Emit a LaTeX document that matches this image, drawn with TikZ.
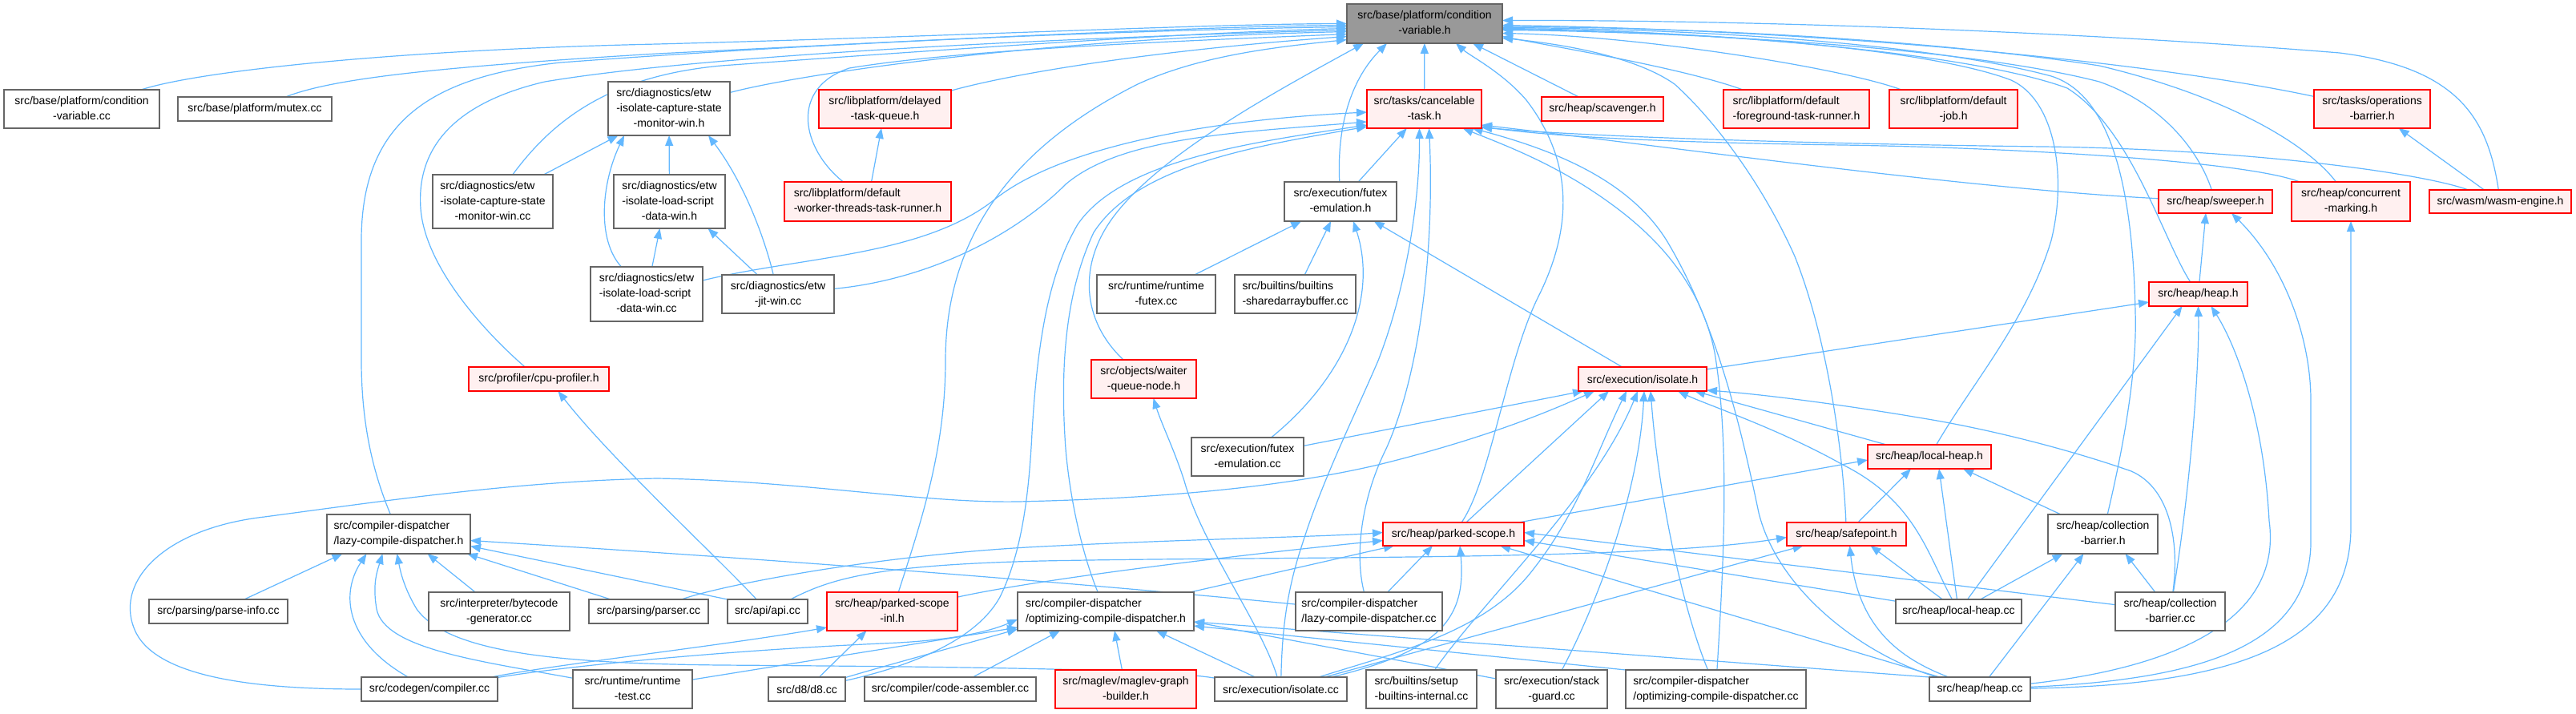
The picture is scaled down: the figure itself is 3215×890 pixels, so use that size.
\documentclass[tikz,border=0pt]{standalone}
\usepackage{fontspec}
\setmainfont{Liberation Sans}
\usetikzlibrary{arrows.meta}
\definecolor{edgec}{HTML}{63B8FF}
\definecolor{grayb}{HTML}{666666}
\definecolor{redf}{HTML}{FFF0F0}
\definecolor{rootf}{HTML}{999999}
\pgfdeclarelayer{back}
\pgfdeclarelayer{edges}
\pgfsetlayers{back,edges,main}
\tikzset{
 nodebase/.style={rectangle, inner sep=0pt, outer sep=0pt, font=\fontsize{7}{9.5}\selectfont},
 gn/.style={nodebase, draw=grayb, fill=white, line width=0.6pt},
 rn/.style={nodebase, draw=red, fill=redf, line width=0.7pt},
 rootnode/.style={nodebase, draw=grayb, fill=rootf, line width=0.6pt},
 edg/.style={draw=edgec, line width=0.6pt, -{Triangle[length=6.5pt,width=5pt]}},
}
\newcommand\two[2]{\begin{tabular}{@{}l@{}}#1\\\multicolumn{1}{@{}c@{}}{#2}\end{tabular}}
\newcommand\three[3]{\begin{tabular}{@{}l@{}}#1\\#2\\\multicolumn{1}{@{}c@{}}{#3}\end{tabular}}
\newcommand\mknode[7]{\node[#2, minimum width={(#5-#3)*0.5pt}, minimum height={(#6-#4)*0.5pt}] (#1) at ({(#3+#5)/2},{(#4+#6)/2}) {#7};}
\begin{document}
\begin{tikzpicture}[x=0.5pt,y=-0.5pt]
\begin{pgfonlayer}{back}
\fill[white] (0,0) rectangle (3215,890);
\end{pgfonlayer}
\useasboundingbox (0,0) rectangle (3215,890);
\mknode{cv_h}{rootnode}{1681}{5}{1875}{54}{\two{src/base/platform/condition}{-variable.h}}
\mknode{condvar_cc}{gn}{5}{112}{199}{160}{\two{src/base/platform/condition}{-variable.cc}}
\mknode{mutex_cc}{gn}{222}{121}{414}{151}{src/base/platform/mutex.cc}
\mknode{etwcap_h}{gn}{759}{102}{911}{169}{\three{src/diagnostics/etw}{-isolate-capture-state}{-monitor-win.h}}
\mknode{delayed_h}{rn}{1022}{112}{1187}{160}{\two{src/libplatform/delayed}{-task-queue.h}}
\mknode{cancel_h}{rn}{1706}{112}{1849}{160}{\two{src/tasks/cancelable}{-task.h}}
\mknode{scav_h}{rn}{1924}{121}{2076}{151}{src/heap/scavenger.h}
\mknode{fgrun_h}{rn}{2151}{112}{2333}{160}{\two{src/libplatform/default}{-foreground-task-runner.h}}
\mknode{defjob_h}{rn}{2358}{112}{2518}{160}{\two{src/libplatform/default}{-job.h}}
\mknode{opbar_h}{rn}{2888}{112}{3033}{160}{\two{src/tasks/operations}{-barrier.h}}
\mknode{etwcap_cc}{gn}{540}{218}{690}{285}{\three{src/diagnostics/etw}{-isolate-capture-state}{-monitor-win.cc}}
\mknode{etwload_h}{gn}{766}{218}{905}{285}{\three{src/diagnostics/etw}{-isolate-load-script}{-data-win.h}}
\mknode{worker_h}{rn}{979}{227}{1187}{276}{\two{src/libplatform/default}{-worker-threads-task-runner.h}}
\mknode{futex_h}{gn}{1603}{227}{1743}{276}{\two{src/execution/futex}{-emulation.h}}
\mknode{sweeper_h}{rn}{2694}{237}{2836}{266}{src/heap/sweeper.h}
\mknode{concmark_h}{rn}{2860}{227}{3008}{276}{\two{src/heap/concurrent}{-marking.h}}
\mknode{wasm_h}{rn}{3032}{237}{3209}{266}{src/wasm/wasm-engine.h}
\mknode{etwload_cc}{gn}{737}{333}{877}{401}{\three{src/diagnostics/etw}{-isolate-load-script}{-data-win.cc}}
\mknode{etwjit_cc}{gn}{901}{343}{1041}{391}{\two{src/diagnostics/etw}{-jit-win.cc}}
\mknode{rtfutex_cc}{gn}{1369}{343}{1517}{391}{\two{src/runtime/runtime}{-futex.cc}}
\mknode{sab_cc}{gn}{1541}{343}{1692}{391}{\two{src/builtins/builtins}{-sharedarraybuffer.cc}}
\mknode{heap_h}{rn}{2682}{352}{2805}{382}{src/heap/heap.h}
\mknode{cpuprof_h}{rn}{585}{458}{760}{488}{src/profiler/cpu-profiler.h}
\mknode{waiter_h}{rn}{1362}{449}{1493}{497}{\two{src/objects/waiter}{-queue-node.h}}
\mknode{isolate_h}{rn}{1970}{458}{2130}{488}{src/execution/isolate.h}
\mknode{futex_cc}{gn}{1487}{546}{1627}{594}{\two{src/execution/futex}{-emulation.cc}}
\mknode{localheap_h}{rn}{2331}{555}{2485}{585}{src/heap/local-heap.h}
\mknode{lazycd_h}{gn}{408}{642}{587}{691}{\two{src/compiler-dispatcher}{/lazy-compile-dispatcher.h}}
\mknode{parked_h}{rn}{1726}{652}{1902}{681}{src/heap/parked-scope.h}
\mknode{safepoint_h}{rn}{2230}{652}{2379}{681}{src/heap/safepoint.h}
\mknode{collbar_h}{gn}{2556}{642}{2693}{691}{\two{src/heap/collection}{-barrier.h}}
\mknode{parseinfo_cc}{gn}{186}{748}{359}{778}{src/parsing/parse-info.cc}
\mknode{bytecode_cc}{gn}{535}{739}{711}{787}{\two{src/interpreter/bytecode}{-generator.cc}}
\mknode{parser_cc}{gn}{735}{748}{884}{778}{src/parsing/parser.cc}
\mknode{api_cc}{gn}{908}{748}{1008}{778}{src/api/api.cc}
\mknode{parkedinl_h}{rn}{1032}{739}{1195}{787}{\two{src/heap/parked-scope}{-inl.h}}
\mknode{optcd_h}{gn}{1270}{739}{1490}{787}{\two{src/compiler-dispatcher}{/optimizing-compile-dispatcher.h}}
\mknode{lazycd_cc}{gn}{1617}{739}{1800}{787}{\two{src/compiler-dispatcher}{/lazy-compile-dispatcher.cc}}
\mknode{localheap_cc}{gn}{2366}{748}{2523}{778}{src/heap/local-heap.cc}
\mknode{collbar_cc}{gn}{2640}{739}{2777}{787}{\two{src/heap/collection}{-barrier.cc}}
\mknode{compiler_cc}{gn}{451}{845}{621}{875}{src/codegen/compiler.cc}
\mknode{rttest_cc}{gn}{715}{836}{864}{884}{\two{src/runtime/runtime}{-test.cc}}
\mknode{d8_cc}{gn}{959}{845}{1055}{875}{src/d8/d8.cc}
\mknode{codeasm_cc}{gn}{1079}{845}{1293}{875}{src/compiler/code-assembler.cc}
\mknode{maglev_h}{rn}{1317}{836}{1493}{884}{\two{src/maglev/maglev-graph}{-builder.h}}
\mknode{isolate_cc}{gn}{1516}{845}{1681}{875}{src/execution/isolate.cc}
\mknode{setupbi_cc}{gn}{1705}{836}{1843}{884}{\two{src/builtins/setup}{-builtins-internal.cc}}
\mknode{stackguard_cc}{gn}{1867}{836}{2006}{884}{\two{src/execution/stack}{-guard.cc}}
\mknode{optcd_cc}{gn}{2029}{836}{2254}{884}{\two{src/compiler-dispatcher}{/optimizing-compile-dispatcher.cc}}
\mknode{heap_cc}{gn}{2408}{845}{2534}{875}{src/heap/heap.cc}
\begin{pgfonlayer}{edges}
% into condition-variable.h, left side
\draw[edg] (condvar_cc) .. controls (250,88) and (500,62) .. (820,55) .. controls (1200,45) and (1500,30) .. (cv_h.west);
\draw[edg] (mutex_cc) .. controls (410,100) and (520,85) .. (820,67) .. controls (1200,48) and (1500,33) .. ([yshift=-1pt]cv_h.west);
\draw[edg] (lazycd_h) .. controls (470,600) and (451,540) .. (451,450) -- (451,300) .. controls (451,150) and (540,95) .. (700,78) .. controls (1100,48) and (1500,36) .. ([yshift=-2pt]cv_h.west);
\draw[edg] (etwcap_cc) .. controls (690,150) and (760,95) .. (900,82) .. controls (1200,60) and (1500,40) .. ([yshift=-3pt]cv_h.west);
\draw[edg] (cpuprof_h) .. controls (600,410) and (530,330) .. (525,260) .. controls (520,190) and (560,130) .. (680,102) .. controls (900,65) and (1400,45) .. ([yshift=-4pt]cv_h.west);
\draw[edg] (etwcap_h) .. controls (1000,92) and (1300,48) .. ([yshift=-5pt]cv_h.west);
\draw[edg] (worker_h) .. controls (1000,185) and (985,110) .. (1060,85) .. controls (1200,62) and (1450,52) .. ([yshift=-6.5pt]cv_h.west);
\draw[edg] (delayed_h) .. controls (1270,90) and (1450,62) .. ([yshift=-8pt]cv_h.west);
\draw[edg] (parkedinl_h) .. controls (1150,650) and (1180,560) .. (1180,450) .. controls (1180,330) and (1230,200) .. (1420,105) .. controls (1500,68) and (1600,58) .. ([yshift=-10pt]cv_h.west);
% bottom
\draw[edg] (waiter_h) .. controls (1350,400) and (1345,330) .. (1390,270) .. controls (1450,190) and (1600,110) .. ([xshift=-38pt]cv_h.south);
\draw[edg] (futex_h) .. controls (1668,150) and (1690,95) .. ([xshift=-23.5pt]cv_h.south);
\draw[edg] (cancel_h) -- (cv_h);
\draw[edg] (parked_h) .. controls (1860,600) and (1880,450) .. (1920,370) .. controls (1970,270) and (1955,190) .. (1905,125) .. controls (1875,90) and (1835,70) .. ([xshift=19.5pt]cv_h.south);
\draw[edg] (scav_h) -- ([xshift=30pt]cv_h.south);
% right side
\draw[edg] (fgrun_h) .. controls (2100,85) and (1950,60) .. ([yshift=-8pt]cv_h.east);
\draw[edg] (defjob_h) .. controls (2300,85) and (2050,45) .. ([yshift=-6pt]cv_h.east);
\draw[edg] (opbar_h) .. controls (2700,80) and (2300,38) .. ([yshift=-1pt]cv_h.east);
\draw[edg] (wasm_h) .. controls (3105,150) and (3070,85) .. (2920,66) .. controls (2600,40) and (2200,25) .. ([yshift=2pt]cv_h.east);
\draw[edg] (concmark_h) .. controls (2880,180) and (2780,120) .. (2620,82) .. controls (2400,48) and (2100,34) .. ([yshift=-2pt]cv_h.east);
\draw[edg] (sweeper_h) .. controls (2745,190) and (2700,130) .. (2620,102) .. controls (2450,58) and (2100,40) .. ([yshift=-4pt]cv_h.east);
\draw[edg] (heap_h) .. controls (2700,300) and (2660,160) .. (2580,110) .. controls (2450,62) and (2100,38) .. ([yshift=-3pt]cv_h.east);
\draw[edg] (collbar_h) .. controls (2640,600) and (2668,480) .. (2665,390) .. controls (2662,250) and (2640,120) .. (2560,95) .. controls (2400,52) and (2100,36) .. ([yshift=-2.5pt]cv_h.east);
\draw[edg] (localheap_h) .. controls (2460,480) and (2530,400) .. (2560,300) .. controls (2580,220) and (2565,125) .. (2510,100) .. controls (2400,58) and (2100,38) .. ([yshift=-3.5pt]cv_h.east);
\draw[edg] (safepoint_h) .. controls (2300,560) and (2280,420) .. (2240,320) .. controls (2200,230) and (2140,150) .. (2090,105) .. controls (2040,70) and (1950,55) .. ([yshift=-9pt]cv_h.east);
% into cancelable-task.h
\draw[edg] (futex_h) -- (cancel_h);
\draw[edg] (isolate_cc) .. controls (1600,790) and (1605,740) .. (1625,680) .. controls (1650,600) and (1690,520) .. (1720,450) .. controls (1755,360) and (1772,250) .. ([xshift=-3pt]cancel_h.south);
\draw[edg] (lazycd_cc) .. controls (1690,690) and (1700,620) .. (1730,560) .. controls (1775,460) and (1790,300) .. ([xshift=3pt]cancel_h.south);
\draw[edg] (optcd_cc) .. controls (2150,720) and (2160,560) .. (2140,440) .. controls (2120,340) and (2050,280) .. (1990,240) .. controls (1930,200) and (1870,178) .. ([xshift=24pt]cancel_h.south);
\draw[edg] (heap_cc) .. controls (2330,820) and (2220,740) .. (2195,640) .. controls (2170,520) and (2140,400) .. (2080,300) .. controls (2030,220) and (1930,185) .. ([xshift=30pt]cancel_h.south);
\draw[edg] (sweeper_h) .. controls (2450,235) and (2100,185) .. ([yshift=-10pt]cancel_h.east);
\draw[edg] (concmark_h) .. controls (2800,200) and (2500,184) .. (2300,181) .. controls (2100,178) and (1950,172) .. ([yshift=-11pt]cancel_h.east);
\draw[edg] (wasm_h) .. controls (3020,215) and (2800,186) .. (2550,183) .. controls (2300,180) and (2000,172) .. ([yshift=-11.5pt]cancel_h.east);
\draw[edg] (etwload_cc) .. controls (1000,320) and (1150,320) .. (1240,250) .. controls (1320,185) and (1500,150) .. ([yshift=-2pt]cancel_h.west);
\draw[edg] (etwjit_cc) .. controls (1150,350) and (1260,300) .. (1330,230) .. controls (1400,170) and (1550,165) .. ([yshift=-8pt]cancel_h.west);
\draw[edg] (d8_cc) .. controls (1120,835) and (1215,805) .. (1248,745) .. controls (1275,690) and (1284,620) .. (1288,540) .. controls (1295,420) and (1310,340) .. (1345,280) .. controls (1400,200) and (1560,178) .. ([yshift=-10pt]cancel_h.west);
\draw[edg] (optcd_h) .. controls (1350,690) and (1335,620) .. (1330,560) .. controls (1322,450) and (1332,360) .. (1365,290) .. controls (1420,205) and (1570,182) .. ([yshift=-11pt]cancel_h.west);
% into futex-emulation.h
\draw[edg] (rtfutex_cc) -- (futex_h);
\draw[edg] (sab_cc) -- (futex_h);
\draw[edg] (futex_cc) .. controls (1680,470) and (1720,370) .. ([xshift=8pt]futex_h.south);
\draw[edg] (isolate_h) -- (futex_h);
% into isolate.h
\draw[edg] (futex_cc) -- ([xshift=3pt]isolate_h.south west);
\draw[edg] (compiler_cc) .. controls (330,860) and (200,848) .. (170,790) .. controls (140,730) and (200,660) .. (330,645) .. controls (480,625) and (650,600) .. (820,597) .. controls (1000,600) and (1150,628) .. (1270,626) .. controls (1450,622) and (1600,608) .. (1720,580) .. controls (1850,548) and (1930,515) .. ([xshift=-30pt]isolate_h.south);
\draw[edg] (parked_h) -- ([xshift=-21pt]isolate_h.south);
\draw[edg] (isolate_cc) .. controls (1740,815) and (1850,790) .. (1910,715) .. controls (1970,640) and (1990,570) .. ([xshift=-10pt]isolate_h.south);
\draw[edg] (setupbi_cc) .. controls (1850,750) and (1990,620) .. ([xshift=-3pt]isolate_h.south);
\draw[edg] (stackguard_cc) .. controls (1990,760) and (2045,620) .. ([xshift=1pt]isolate_h.south);
\draw[edg] (optcd_cc) .. controls (2100,760) and (2070,620) .. ([xshift=5pt]isolate_h.south);
\draw[edg] (localheap_cc) .. controls (2405,690) and (2390,625) .. (2300,580) .. controls (2220,535) and (2130,505) .. ([xshift=22pt]isolate_h.south);
\draw[edg] (localheap_h) -- ([xshift=32.5pt]isolate_h.south);
\draw[edg] (collbar_cc) .. controls (2720,680) and (2710,610) .. (2660,588) .. controls (2580,560) and (2480,535) .. (2400,522) .. controls (2300,505) and (2200,492) .. ([yshift=-7pt]isolate_h.east);
% heap.h and friends
\draw[edg] (isolate_h) -- ([yshift=-5pt]heap_h.west);
\draw[edg] (localheap_cc) -- ([xshift=-10pt]heap_h.south);
\draw[edg] (collbar_cc) .. controls (2735,600) and (2745,450) .. (heap_h.south);
\draw[edg] (heap_cc) .. controls (2700,835) and (2850,780) .. (2832,650) .. controls (2825,520) and (2790,430) .. ([xshift=8pt]heap_h.south);
\draw[edg] (heap_h) -- ([xshift=-6pt]sweeper_h.south);
\draw[edg] (heap_cc) .. controls (2750,848) and (2880,805) .. (2884,680) -- (2884,500) .. controls (2884,420) and (2850,330) .. ([xshift=10pt]sweeper_h.south);
\draw[edg] (heap_cc) .. controls (2800,855) and (2932,800) .. (2934,660) -- (concmark_h);
% collection barrier, local heap, safepoint
\draw[edg] (localheap_cc) -- ([xshift=-25pt]collbar_h.south);
\draw[edg] (heap_cc) -- ([xshift=-12pt]collbar_h.south);
\draw[edg] (collbar_cc) -- ([xshift=14pt]collbar_h.south);
\draw[edg] (collbar_h) -- ([xshift=21pt]localheap_h.south);
\draw[edg] (parked_h) -- ([yshift=-2pt]localheap_h.west);
\draw[edg] (safepoint_h) -- ([xshift=-11.5pt]localheap_h.south);
\draw[edg] (localheap_cc) -- ([xshift=6pt]localheap_h.south);
\draw[edg] (api_cc) .. controls (1040,720) and (1100,705) .. (1300,700) .. controls (1600,694) and (2050,700) .. ([yshift=-2pt]safepoint_h.west);
\draw[edg] (isolate_cc) -- ([xshift=-27pt]safepoint_h.south);
\draw[edg] (heap_cc) .. controls (2380,825) and (2320,790) .. ([xshift=2pt]safepoint_h.south);
\draw[edg] (localheap_cc) -- ([xshift=15pt]safepoint_h.south);
% parked-scope.h
\draw[edg] (parser_cc) .. controls (900,730) and (1100,692) .. (1300,682) .. controls (1500,672) and (1650,670) .. ([yshift=1pt]parked_h.west);
\draw[edg] (parkedinl_h) .. controls (1300,722) and (1550,692) .. ([yshift=-4pt]parked_h.west);
\draw[edg] (optcd_h) -- ([xshift=-37pt]parked_h.south);
\draw[edg] (lazycd_cc) -- ([xshift=-13pt]parked_h.south);
\draw[edg] (isolate_cc) .. controls (1800,812) and (1830,770) .. ([xshift=4pt]parked_h.south);
\draw[edg] (heap_cc) -- ([xshift=29pt]parked_h.south);
\draw[edg] (localheap_cc) -- ([yshift=-4pt]parked_h.east);
\draw[edg] (collbar_cc) -- ([yshift=1pt]parked_h.east);
% optimizing-compile-dispatcher.h
\draw[edg] (compiler_cc) .. controls (700,832) and (900,812) .. (1100,803) .. controls (1180,800) and (1230,790) .. ([yshift=-5pt]optcd_h.west);
\draw[edg] (compiler_cc) .. controls (700,828) and (900,806) .. ([yshift=-10pt]parkedinl_h.west);
\draw[edg] (rttest_cc) -- ([yshift=-10pt]optcd_h.west);
\draw[edg] (d8_cc) .. controls (1100,832) and (1200,805) .. ([yshift=-11pt]optcd_h.west);
\draw[edg] (codeasm_cc) -- ([xshift=-28.5pt]optcd_h.south);
\draw[edg] (maglev_h) -- ([xshift=5.5pt]optcd_h.south);
\draw[edg] (isolate_cc) -- ([xshift=31.5pt]optcd_h.south);
\draw[edg] (stackguard_cc) -- ([yshift=-6.5pt]optcd_h.east);
\draw[edg] (optcd_cc.north west) -- ([yshift=-9pt]optcd_h.east);
\draw[edg] (heap_cc.north west) -- ([yshift=-6.5pt]optcd_h.east);
% lazy-compile-dispatcher.h
\draw[edg] (parseinfo_cc) -- ([xshift=-35pt]lazycd_h.south);
\draw[edg] (compiler_cc) .. controls (430,800) and (425,740) .. ([xshift=-20pt]lazycd_h.south);
\draw[edg] (rttest_cc) .. controls (600,825) and (480,810) .. (470,760) .. controls (465,730) and (470,715) .. ([xshift=-10pt]lazycd_h.south);
\draw[edg] (isolate_cc) .. controls (1450,835) and (1200,832) .. (900,830) .. controls (700,828) and (560,815) .. (520,760) .. controls (505,735) and (500,715) .. ([xshift=-1pt]lazycd_h.south);
\draw[edg] (bytecode_cc) -- ([xshift=18pt]lazycd_h.south);
\draw[edg] (parser_cc) -- ([xshift=-2pt]lazycd_h.south east);
\draw[edg] (api_cc.north west) -- ([yshift=-7.5pt]lazycd_h.east);
\draw[edg] (lazycd_cc) .. controls (1350,728) and (1000,700) .. ([yshift=-4pt]lazycd_h.east);
% misc
\draw[edg] (api_cc) .. controls (900,700) and (760,570) .. ([xshift=12pt]cpuprof_h.south);
\draw[edg] (d8_cc) -- ([xshift=-16pt]parkedinl_h.south);
\draw[edg] (isolate_cc) .. controls (1575,780) and (1500,680) .. (1478,600) .. controls (1465,560) and (1450,530) .. ([xshift=6pt]waiter_h.south);
\draw[edg] (etwcap_cc) -- (etwcap_h);
\draw[edg] (etwload_h) -- (etwcap_h);
\draw[edg] (etwload_cc) -- ([xshift=-6pt]etwload_h.south);
\draw[edg] (etwload_cc) .. controls (745,300) and (750,230) .. ([xshift=-28pt]etwcap_h.south);
\draw[edg] (etwjit_cc) -- ([xshift=24pt]etwload_h.south);
\draw[edg] (etwjit_cc) .. controls (955,300) and (930,230) .. ([xshift=24.5pt]etwcap_h.south);
\draw[edg] (worker_h) -- (delayed_h);
\draw[edg] (wasm_h) -- (opbar_h);
\end{pgfonlayer}
\end{tikzpicture}
\end{document}
